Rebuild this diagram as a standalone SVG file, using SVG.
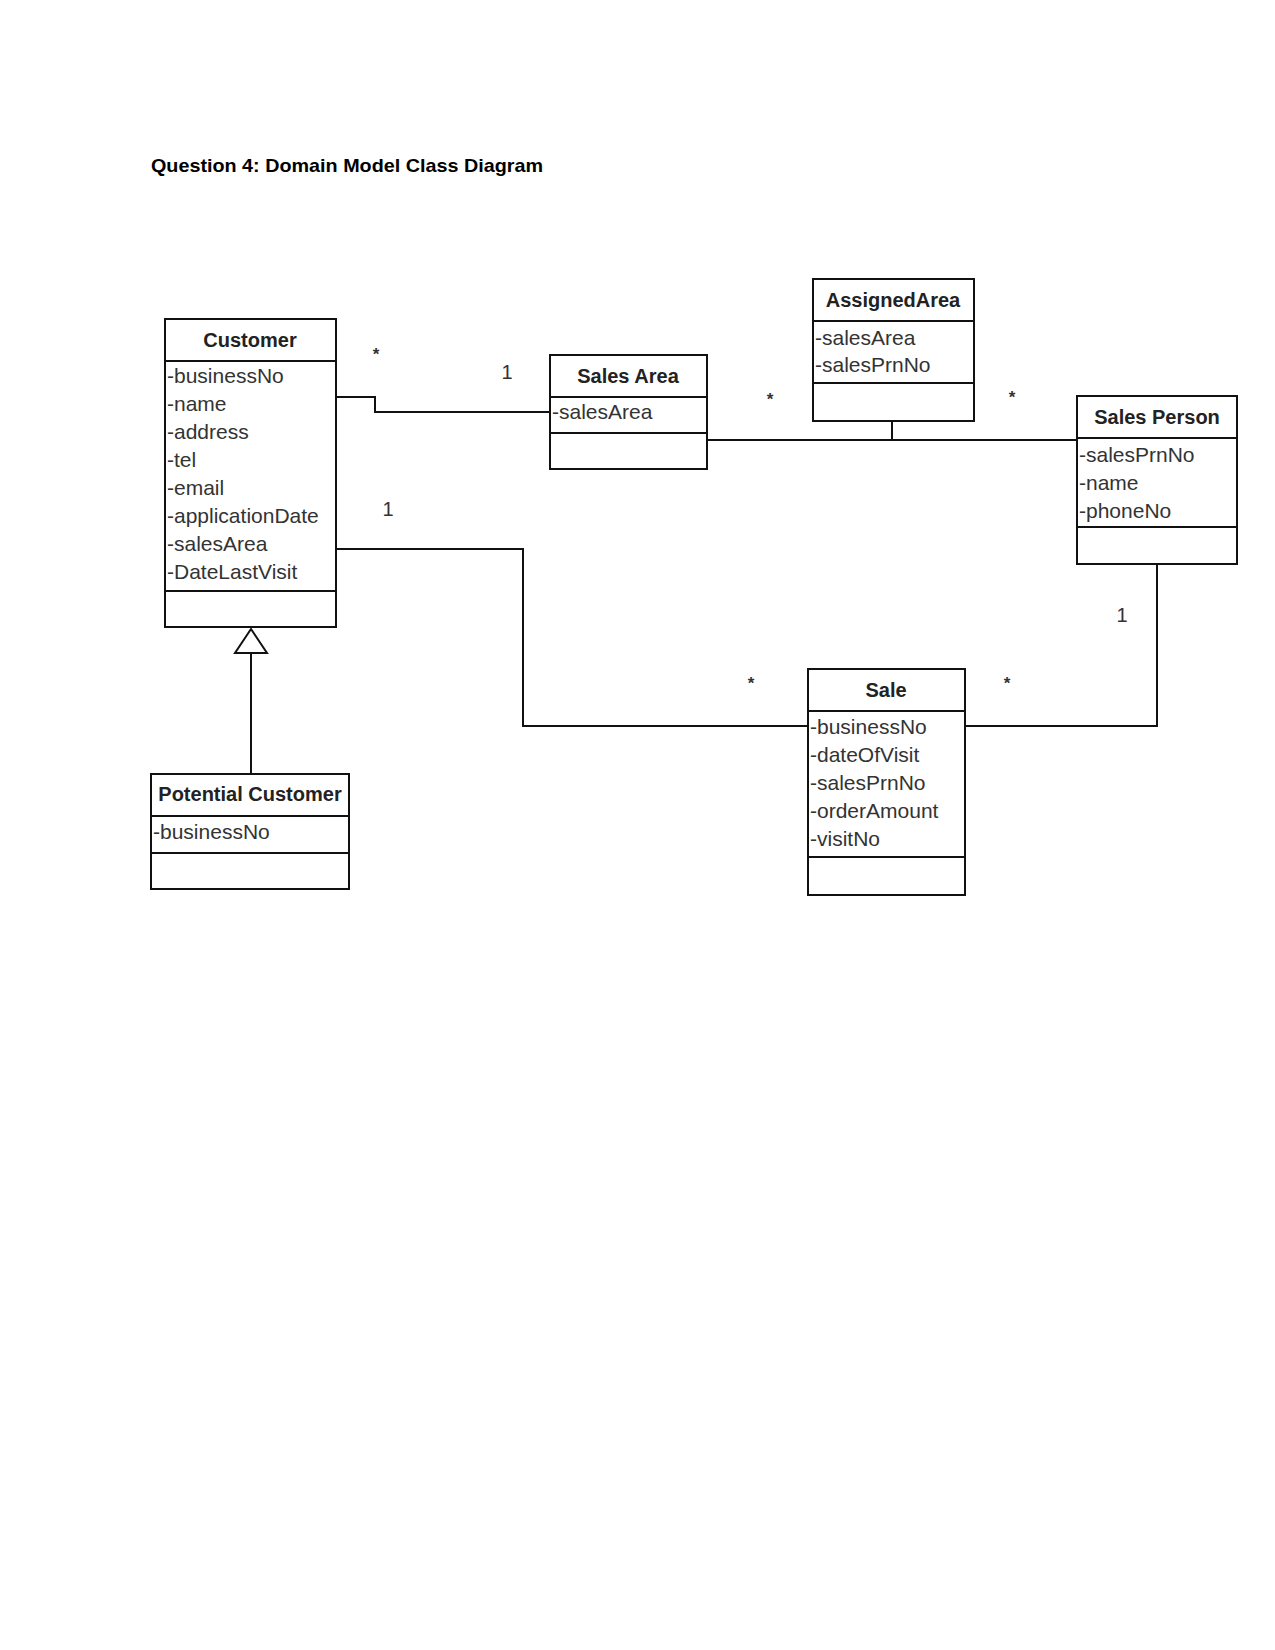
<svg xmlns="http://www.w3.org/2000/svg" width="1275" height="1650" viewBox="0 0 1275 1650">
<style>
.box{fill:#fff;stroke:#111;stroke-width:2}
.div{stroke:#111;stroke-width:2}
.t{font-family:"Liberation Sans",Arial,sans-serif;font-size:20px;font-weight:bold;fill:#222;text-anchor:middle}
.a{font-family:"Liberation Sans",Arial,sans-serif;font-size:21px;fill:#333}
.c{fill:none;stroke:#111;stroke-width:2}
.m{font-family:"Liberation Sans",Arial,sans-serif;font-size:20px;fill:#333;text-anchor:middle}
.s{font-family:"Liberation Sans",Arial,sans-serif;font-size:17px;font-weight:bold;fill:#333;text-anchor:middle}
</style>
<rect width="1275" height="1650" fill="#fff"/>
<text x="151" y="172" font-family="'Liberation Sans',Arial,sans-serif" font-size="19" font-weight="bold" fill="#000" textLength="392" lengthAdjust="spacingAndGlyphs">Question 4: Domain Model Class Diagram</text>

<g id="connectors">
<polyline class="c" points="336,397 375,397 375,412 550,412"/>
<polyline class="c" points="707,440 1077,440"/>
<line class="c" x1="892" y1="421" x2="892" y2="440"/>
<polyline class="c" points="336,549 523,549 523,726 808,726"/>
<polyline class="c" points="965,726 1157,726 1157,564"/>
<line class="c" x1="251" y1="653" x2="251" y2="774"/>
<polygon points="251,629 235,653 267,653" fill="#fff" stroke="#111" stroke-width="2"/>
<text class="s" x="376" y="360">*</text>
<text class="m" x="507" y="379">1</text>
<text class="m" x="388" y="516">1</text>
<text class="s" x="770" y="405">*</text>
<text class="s" x="1012" y="403">*</text>
<text class="m" x="1122" y="622">1</text>
<text class="s" x="751" y="689">*</text>
<text class="s" x="1007" y="689">*</text>
</g>

<g id="customer">
<rect class="box" x="165" y="319" width="171" height="308"/>
<line class="div" x1="165" y1="361" x2="336" y2="361"/>
<line class="div" x1="165" y1="591" x2="336" y2="591"/>
<text class="t" x="250" y="347">Customer</text>
<text class="a" x="167" y="383">-businessNo</text>
<text class="a" x="167" y="411">-name</text>
<text class="a" x="167" y="439">-address</text>
<text class="a" x="167" y="467">-tel</text>
<text class="a" x="167" y="495">-email</text>
<text class="a" x="167" y="523">-applicationDate</text>
<text class="a" x="167" y="551">-salesArea</text>
<text class="a" x="167" y="579">-DateLastVisit</text>
</g>

<g id="sales-area">
<rect class="box" x="550" y="355" width="157" height="114"/>
<line class="div" x1="550" y1="397" x2="707" y2="397"/>
<line class="div" x1="550" y1="433" x2="707" y2="433"/>
<text class="t" x="628" y="383">Sales Area</text>
<text class="a" x="552" y="419">-salesArea</text>
</g>

<g id="assigned-area">
<rect class="box" x="813" y="279" width="161" height="142"/>
<line class="div" x1="813" y1="321" x2="974" y2="321"/>
<line class="div" x1="813" y1="383" x2="974" y2="383"/>
<text class="t" x="893" y="307">AssignedArea</text>
<text class="a" x="815" y="345">-salesArea</text>
<text class="a" x="815" y="372">-salesPrnNo</text>
</g>

<g id="sales-person">
<rect class="box" x="1077" y="396" width="160" height="168"/>
<line class="div" x1="1077" y1="438" x2="1237" y2="438"/>
<line class="div" x1="1077" y1="527" x2="1237" y2="527"/>
<text class="t" x="1157" y="424">Sales Person</text>
<text class="a" x="1079" y="462">-salesPrnNo</text>
<text class="a" x="1079" y="490">-name</text>
<text class="a" x="1079" y="518">-phoneNo</text>
</g>

<g id="sale">
<rect class="box" x="808" y="669" width="157" height="226"/>
<line class="div" x1="808" y1="711" x2="965" y2="711"/>
<line class="div" x1="808" y1="857" x2="965" y2="857"/>
<text class="t" x="886" y="697">Sale</text>
<text class="a" x="810" y="734">-businessNo</text>
<text class="a" x="810" y="762">-dateOfVisit</text>
<text class="a" x="810" y="790">-salesPrnNo</text>
<text class="a" x="810" y="818">-orderAmount</text>
<text class="a" x="810" y="846">-visitNo</text>
</g>

<g id="potential-customer">
<rect class="box" x="151" y="774" width="198" height="115"/>
<line class="div" x1="151" y1="816" x2="349" y2="816"/>
<line class="div" x1="151" y1="853" x2="349" y2="853"/>
<text class="t" x="250" y="801">Potential Customer</text>
<text class="a" x="153" y="839">-businessNo</text>
</g>
</svg>
